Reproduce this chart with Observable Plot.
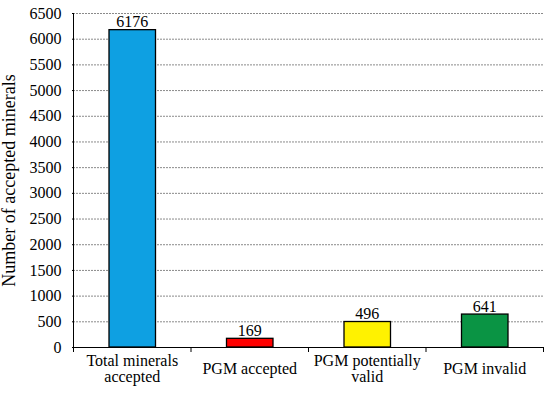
<!DOCTYPE html>
<html>
<head>
<meta charset="utf-8">
<script src="https://cdn.jsdelivr.net/npm/d3@7"></script>
<script src="https://cdn.jsdelivr.net/npm/@observablehq/plot@0.6"></script>
<style>
  html, body { margin: 0; padding: 0; background: #fff; }
  #chart svg { display: block; }
</style>
</head>
<body>
<div id="chart"></div>
<script>
const categories = ["Total minerals\naccepted", "PGM accepted", "PGM potentially\nvalid", "PGM invalid"];
const values = [6176, 169, 496, 641];
const colors = ["#0ea0e2", "#ff0000", "#fff200", "#0a9444"];
const yTicks = d3.range(0, 6501, 500);
const yLabel = "Number of accepted minerals";

const rows = categories.map((c, i) => ({i, c, v: values[i], col: colors[i]}));
const font = "'Liberation Serif', 'Times New Roman', serif";

const chart = Plot.plot({
  width: 550,
  height: 394,
  marginLeft: 73,
  marginRight: 7,
  marginTop: 13,
  marginBottom: 47,
  style: {fontFamily: font, fontSize: "16px", color: "#000", background: "#fff"},
  x: {type: "linear", domain: [0, categories.length], axis: null},
  y: {domain: [0, 6500], axis: null},
  marks: [
    Plot.gridY(yTicks.filter(d => d > 0), {stroke: "#8a8a8a", strokeOpacity: 1, strokeDasharray: "2,1"}),
    Plot.rectY(rows, {x1: "i", x2: d => d.i + 1, y: "v", fill: "col", stroke: "#000", strokeWidth: 1.3, insetLeft: 36, insetRight: 35}),
    Plot.ruleY([0], {stroke: "#000", strokeWidth: 1}),
    Plot.ruleX([0], {stroke: "#000", strokeWidth: 1}),
    Plot.axisY({ticks: yTicks, tickSize: 1, tickPadding: 11, fontSize: 16, fontFamily: font, tickFormat: d3.format("d"), label: null}),
    Plot.axisY({ticks: [], tickSize: 0, fontSize: 18, fontFamily: font, label: yLabel, labelAnchor: "center", labelArrow: "none", labelOffset: 71}),
    Plot.axisX({ticks: d3.range(0, categories.length + 1), tickSize: 5, tickFormat: () => "", label: null}),
    Plot.text(rows, {x: d => d.i + 0.5, y: 0, text: "c", lineAnchor: "middle", dy: 21, fontSize: 16, fontFamily: font, lineHeight: 1.02}),
    Plot.text(rows, {x: d => d.i + 0.5, y: "v", text: d => String(d.v), lineAnchor: "bottom", dy: -3, fontSize: 16, fontFamily: font})
  ]
});
document.getElementById("chart").appendChild(chart);
</script>
</body>
</html>
